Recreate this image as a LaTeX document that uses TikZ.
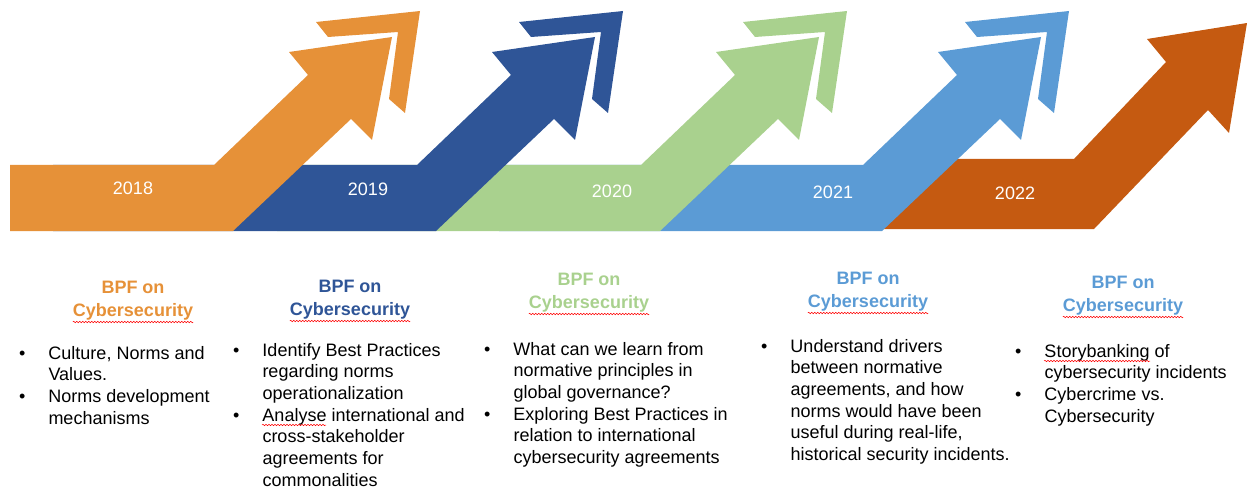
\documentclass[tikz,border=0pt]{standalone}
\usepackage{fontspec}
\setmainfont{Liberation Sans}
\usetikzlibrary{decorations.pathmorphing}

\definecolor{bpforange}{HTML}{E69138}
\definecolor{bpfblue}{HTML}{2F5597}
\definecolor{bpfgreen}{HTML}{A9D18E}
\definecolor{bpflblue}{HTML}{5B9BD5}
\definecolor{bpfrust}{HTML}{C55A11}

% bullet list as a two column table, first row on the baseline
\newcommand{\bpflist}[1]{\begin{tabular}[t]{@{}l@{\hspace{23pt}}l@{}}#1\end{tabular}}

\begin{document}
\begin{tikzpicture}[x=1pt, y=-1pt,
    year/.style={text=white, inner sep=0pt, font=\fontsize{18}{22}\selectfont},
    heading/.style={anchor=north, align=center, inner sep=0pt, font=\bfseries\fontsize{18}{23}\selectfont},
    items/.style={anchor=base west, inner sep=0pt, font=\fontsize{18}{21.7}\selectfont},
    spell/.style={red, line width=0.5pt, decorate, decoration={snake, amplitude=0.7pt, segment length=3pt}}]
    \useasboundingbox (0,0) rectangle (1247,489);

    % 2022 arrow, lies under all the others
    \fill[bpfrust] (878,159) -- (1074,159) -- (1166,62) -- (1147,39) -- (1247,23)
        -- (1229,133) -- (1208,110) -- (1094,229) -- (878,229) -- cycle;

    % 2021 down to 2018: bar, arrow and chevron
    \foreach \s/\l/\c in {649/-150/bpflblue, 427/-150/bpfgreen, 203/-150/bpfblue, 0/10/bpforange} {
        \begin{scope}[xshift=\s pt]
            \fill[\c] (\l,165) -- (214,165) -- (308,75) -- (289,52) -- (392,37)
                -- (372,140) -- (351,119) -- (233,231) -- (\l,231) -- cycle;
            \fill[\c] (316,22) -- (420,11) -- (405,113) -- (389,99) -- (398,32) -- (328,37) -- cycle;
        \end{scope}
    }

    % Years
    \node[year] (y2018) at (133,188) {2018};
    \node[year] (y2019) at (368,189) {2019};
    \node[year] (y2020) at (612,191) {2020};
    \node[year] (y2021) at (833,192) {2021};
    \node[year] (y2022) at (1015,193) {2022};

    % Headings
    \node[heading, text=bpforange] (head18) at (133,281) {BPF on\\Cybersecurity};
    \node[heading, text=bpfblue] (head19) at (350,280) {BPF on\\Cybersecurity};
    \node[heading, text=bpfgreen] (head20) at (589,273) {BPF on\\Cybersecurity};
    \node[heading, text=bpflblue] (head21) at (868,272) {BPF on\\Cybersecurity};
    \node[heading, text=bpflblue] (head22) at (1123,276) {BPF on\\Cybersecurity};
    \foreach \h in {head18,head19,head20,head21,head22}
        \draw[spell] ([yshift=-1.5pt]\h.south west) -- ([yshift=-1.5pt]\h.south east);

    % Topics
    \node[items] (list18) at (19,359) {\bpflist{\textbullet & Culture, Norms and\\
        & Values.\\
        \textbullet & Norms development\\
        & mechanisms}};
    \node[items] (list19) at (233,356) {\bpflist{\textbullet & Identify Best Practices\\
        & regarding norms\\
        & operationalization\\
        \textbullet & Analyse international and\\
        & cross-stakeholder\\
        & agreements for\\
        & commonalities}};
    \node[items] (list20) at (484,355) {\bpflist{\textbullet & What can we learn from\\
        & normative principles in\\
        & global governance?\\
        \textbullet & Exploring Best Practices in\\
        & relation to international\\
        & cybersecurity agreements}};
    \node[items] (list21) at (761,352) {\bpflist{\textbullet & Understand drivers\\
        & between normative\\
        & agreements, and how\\
        & norms would have been\\
        & useful during real-life,\\
        & historical security incidents.}};
    \node[items] (list22) at (1015,357) {\bpflist{\textbullet & Storybanking of\\
        & cybersecurity incidents\\
        \textbullet & Cybercrime vs.\\
        & Cybersecurity}};
    \draw[spell] (262,425) -- (326,425);
    \draw[spell] (1044,361) -- (1150,361);
\end{tikzpicture}
\end{document}
